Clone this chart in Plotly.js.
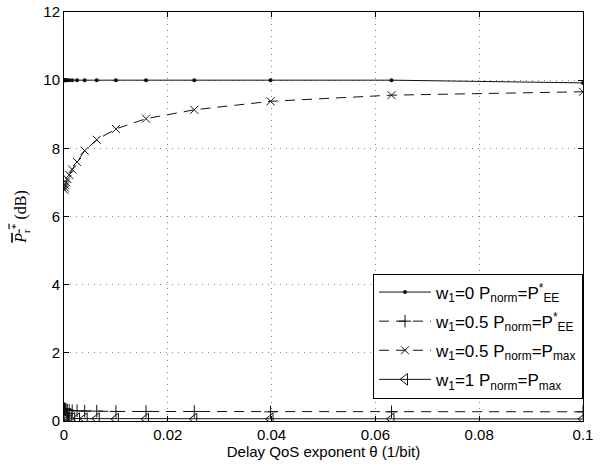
<!DOCTYPE html>
<html>
<head>
<meta charset="utf-8">
<script src="https://cdn.plot.ly/plotly-3.0.1.min.js"></script>
<style>html,body{margin:0;padding:0;background:#fff;}#chart{width:602px;height:468px;}</style>
</head>
<body>
<div id="chart"></div>
<script>
// Delay QoS exponent theta (1/bit)
const theta = [0.0001, 0.000158, 0.000251, 0.000398, 0.000631, 0.001, 0.00158, 0.00251, 0.00398, 0.00631, 0.01, 0.0158, 0.0251, 0.0398, 0.0631, 0.1];
// Average transmit power (dB) per scheme
const w0_PEE   = [10.0, 10.0, 10.0, 10.0, 10.0, 10.0, 10.0, 10.0, 10.0, 10.0, 10.0, 10.0, 10.0, 10.0, 10.0, 9.92];
const w05_PEE  = [0.36, 0.35, 0.34, 0.33, 0.32, 0.31, 0.30, 0.30, 0.29, 0.29, 0.28, 0.28, 0.28, 0.27, 0.27, 0.27];
const w05_Pmax = [6.78, 6.85, 6.92, 7.0, 7.1, 7.22, 7.38, 7.6, 7.93, 8.25, 8.57, 8.87, 9.13, 9.38, 9.56, 9.66];
const w1_Pmax  = [0.11, 0.10, 0.10, 0.09, 0.09, 0.08, 0.08, 0.07, 0.07, 0.07, 0.06, 0.06, 0.06, 0.06, 0.06, 0.06];
const seriesNames = [
  'w<sub>1</sub>=0 P<sub>norm</sub>=P<sup>*</sup><sub>EE</sub>',
  'w<sub>1</sub>=0.5 P<sub>norm</sub>=P<sup>*</sup><sub>EE</sub>',
  'w<sub>1</sub>=0.5 P<sub>norm</sub>=P<sub>max</sub>',
  'w<sub>1</sub>=1 P<sub>norm</sub>=P<sub>max</sub>'
];
const xTicks = [0, 0.02, 0.04, 0.06, 0.08, 0.1];
const xTickText = ['0', '0.02', '0.04', '0.06', '0.08', '0.1'];
const yTicks = [0, 2, 4, 6, 8, 10, 12];

const ink = '#111';
const traces = [
  {x: theta, y: w0_PEE, name: seriesNames[0], legendgroup: 'a', mode: 'lines+markers',
   line: {color: ink, width: 1}, marker: {symbol: 'circle', size: 4, color: ink}},
  {x: theta, y: w05_PEE, name: seriesNames[1], legendgroup: 'b', mode: 'lines+markers',
   line: {color: ink, width: 1, dash: '10px,7px'}, marker: {symbol: 'cross-thin-open', size: 9, color: ink, line: {color: ink, width: 1}}},
  {x: theta, y: w05_Pmax, name: seriesNames[2], legendgroup: 'c', mode: 'lines+markers',
   line: {color: ink, width: 1, dash: '10px,7px'}, marker: {symbol: 'x-thin-open', size: 8, color: ink, line: {color: ink, width: 1}}},
  {x: theta, y: w1_Pmax, name: seriesNames[3], legendgroup: 'd', mode: 'lines+markers',
   line: {color: ink, width: 1}, marker: {symbol: 'triangle-left-open', size: 10, color: ink, line: {color: ink, width: 1}}}
];

const axisCommon = {
  showline: true, linecolor: '#000', linewidth: 1, mirror: 'ticks',
  ticks: 'inside', ticklen: 5, tickcolor: '#000',
  showgrid: true, gridcolor: '#888', griddash: '1px,5px', gridwidth: 1,
  zeroline: false,
  tickfont: {family: 'Liberation Sans, Arial, sans-serif', size: 15, color: '#000'}
};

const layout = {
  width: 602, height: 468,
  margin: {l: 64, r: 19, t: 12, b: 47},
  paper_bgcolor: '#fff', plot_bgcolor: '#fff',
  showlegend: true,
  xaxis: Object.assign({}, axisCommon, {
    range: [0, 0.1], tickvals: xTicks, ticktext: xTickText,
    title: {text: 'Delay QoS exponent θ (1/bit)', standoff: 3,
            font: {family: 'Liberation Sans, Arial, sans-serif', size: 15, color: '#000'}}
  }),
  yaxis: Object.assign({}, axisCommon, {
    range: [0, 12], tickvals: yTicks,
    title: {text: '<span style="text-decoration:overline"><i>P</i><sub>r</sub><sup>*</sup></span> (dB)', standoff: 12,
            font: {family: 'Liberation Serif, Times New Roman, serif', size: 16, color: '#000'}}
  }),
  legend: {
    x: 1, xanchor: 'right', y: 0.055, yanchor: 'bottom',
    bgcolor: '#fff', bordercolor: '#000', borderwidth: 1,
    font: {family: 'Liberation Sans, Arial, sans-serif', size: 17, color: '#000'},
    tracegroupgap: 4, itemwidth: 52
  }
};

Plotly.newPlot('chart', traces, layout, {staticPlot: true, displayModeBar: false});
</script>
</body>
</html>
